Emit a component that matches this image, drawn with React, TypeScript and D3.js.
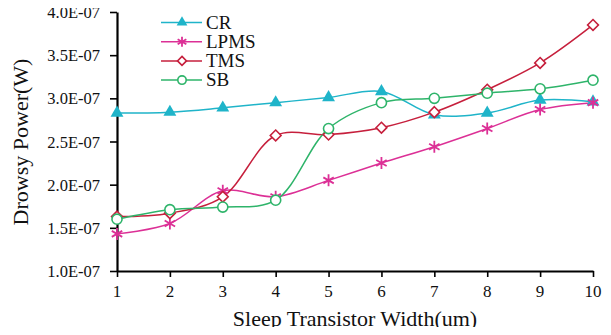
import { useEffect, useRef } from "react";
import * as d3 from "d3";

const widths = [1, 2, 3, 4, 5, 6, 7, 8, 9, 10];
const yTicks = [1e-7, 1.5e-7, 2e-7, 2.5e-7, 3e-7, 3.5e-7, 4e-7];
const yTickLabels = ["1.0E-07", "1.5E-07", "2.0E-07", "2.5E-07", "3.0E-07", "3.5E-07", "4.0E-07"];

const cr = [2.83, 2.84, 2.89, 2.95, 3.01, 3.08, 2.81, 2.83, 2.98, 2.96];
const lpms = [1.43, 1.55, 1.93, 1.86, 2.05, 2.25, 2.44, 2.65, 2.87, 2.95];
const tms = [1.63, 1.67, 1.86, 2.57, 2.58, 2.66, 2.84, 3.1, 3.41, 3.85];
const sb = [1.6, 1.71, 1.74, 1.82, 2.65, 2.95, 3.0, 3.06, 3.11, 3.21];

const seriesNames = ["CR", "LPMS", "TMS", "SB"];
const seriesValues = [cr, lpms, tms, sb];
const seriesColors = ["#1fb4c9", "#dc3096", "#c61f3c", "#2eb46a"];
const seriesMarkers = ["triangle", "star", "diamond", "circle"];

const W = 611;
const H = 335;
const FONT = "'Liberation Serif', 'Times New Roman', serif";

const drawMarker = (g, type, color, cx, cy, s) => {
  if (type === "triangle") {
    g.append("path")
      .attr("d", d3.symbol(d3.symbolTriangle, s * s * 0.5)())
      .attr("transform", `translate(${cx},${cy})`)
      .attr("fill", color);
  } else if (type === "circle") {
    g.append("circle")
      .attr("cx", cx)
      .attr("cy", cy)
      .attr("r", s * 0.42)
      .attr("fill", "#fff")
      .attr("stroke", color)
      .attr("stroke-width", 1.6);
  } else if (type === "diamond") {
    const r = s * 0.45;
    g.append("path")
      .attr("d", `M${cx},${cy - r}L${cx + r},${cy}L${cx},${cy + r}L${cx - r},${cy}Z`)
      .attr("fill", "#fff")
      .attr("stroke", color)
      .attr("stroke-width", 1.6);
  } else {
    const r = s * 0.5;
    const d = [
      [0, -r, 0, r],
      [-r * 0.87, -r * 0.5, r * 0.87, r * 0.5],
      [-r * 0.87, r * 0.5, r * 0.87, -r * 0.5],
    ]
      .map(([x1, y1, x2, y2]) => `M${cx + x1},${cy + y1}L${cx + x2},${cy + y2}`)
      .join("");
    g.append("path").attr("d", d).attr("stroke", color).attr("stroke-width", 1.8);
  }
};

const App = () => {
  const svgRef = useRef(null);

  useEffect(() => {
    const svg = d3.select(svgRef.current);
    svg.selectAll("*").remove();

    const x = d3.scaleLinear().domain([1, 10]).range([117, 593]);
    const y = d3.scaleLinear().domain([1e-7, 4e-7]).range([271, 12]);

    // axes (lines and ticks from d3, labels drawn by hand for font control)
    const xAxis = svg
      .append("g")
      .attr("transform", "translate(0,271)")
      .call(d3.axisBottom(x).tickValues(widths).tickSize(6).tickSizeOuter(0).tickFormat(() => ""));
    const yAxis = svg
      .append("g")
      .attr("transform", "translate(117,0)")
      .call(d3.axisLeft(y).tickValues(yTicks).tickSize(7).tickSizeOuter(0).tickFormat(() => ""));
    [xAxis, yAxis].forEach((a) => {
      a.selectAll(".domain").attr("stroke", "#000").attr("stroke-width", 2.2);
      a.selectAll(".tick line").attr("stroke", "#000").attr("stroke-width", 1.6);
    });

    svg
      .append("g")
      .selectAll("text")
      .data(widths)
      .join("text")
      .attr("x", (d) => x(d))
      .attr("y", 297)
      .attr("text-anchor", "middle")
      .attr("font-family", FONT)
      .attr("font-size", 17)
      .attr("fill", "#111")
      .text((d) => d);

    svg
      .append("g")
      .selectAll("text")
      .data(yTicks)
      .join("text")
      .attr("x", 100)
      .attr("y", (d) => y(d) + 6)
      .attr("text-anchor", "end")
      .attr("font-family", FONT)
      .attr("font-size", 16.5)
      .attr("fill", "#111")
      .text((d, i) => yTickLabels[i]);

    // axis titles
    svg
      .append("text")
      .attr("x", 355)
      .attr("y", 326)
      .attr("text-anchor", "middle")
      .attr("font-family", FONT)
      .attr("font-size", 22)
      .attr("fill", "#111")
      .text("Sleep Transistor Width(um)");
    svg
      .append("text")
      .attr("transform", "translate(28,142) rotate(-90)")
      .attr("text-anchor", "middle")
      .attr("font-family", FONT)
      .attr("font-size", 22)
      .attr("fill", "#111")
      .text("Drowsy Power(W)");

    // series lines
    const line = d3
      .line()
      .x((d, i) => x(widths[i]))
      .y((d) => y(d * 1e-7))
      .curve(d3.curveCatmullRom.alpha(0.5));

    const plot = svg.append("g");
    seriesValues.forEach((vals, k) => {
      plot
        .append("path")
        .datum(vals)
        .attr("d", line)
        .attr("fill", "none")
        .attr("stroke", seriesColors[k])
        .attr("stroke-width", 1.5);
    });
    seriesValues.forEach((vals, k) => {
      const mg = plot.append("g");
      vals.forEach((v, i) => {
        drawMarker(mg, seriesMarkers[k], seriesColors[k], x(widths[i]), y(v * 1e-7), 12);
      });
    });

    // legend
    const legend = svg.append("g");
    seriesNames.forEach((name, k) => {
      const ly = 22.5 + k * 19.2;
      legend
        .append("line")
        .attr("x1", 161)
        .attr("x2", 202)
        .attr("y1", ly)
        .attr("y2", ly)
        .attr("stroke", seriesColors[k])
        .attr("stroke-width", 1.5);
      drawMarker(legend, seriesMarkers[k], seriesColors[k], 182, ly, 10);
      legend
        .append("text")
        .attr("x", 206)
        .attr("y", ly + 6)
        .attr("font-family", FONT)
        .attr("font-size", 19)
        .attr("fill", "#111")
        .text(name);
    });
  }, []);

  return (
    <div style={{ margin: -8 }}>
      <svg ref={svgRef} width={W} height={H} style={{ display: "block", background: "#fff" }}></svg>
    </div>
  );
};

export default App;
